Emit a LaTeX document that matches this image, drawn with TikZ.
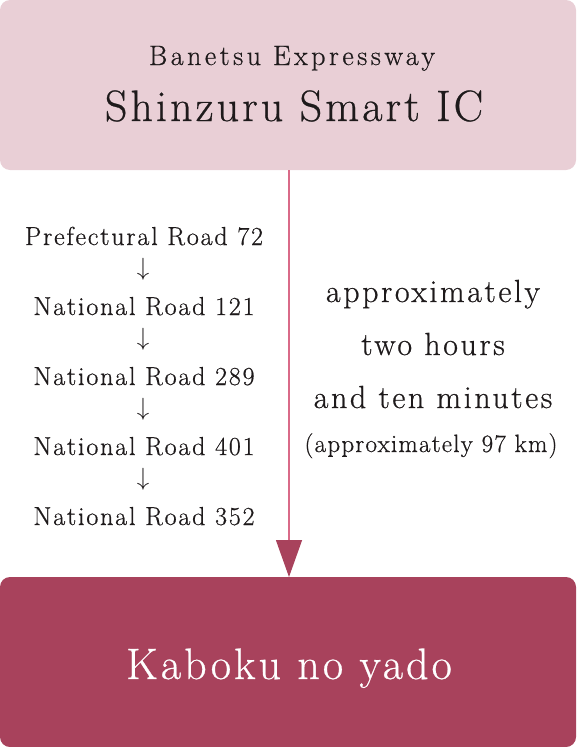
\documentclass[tikz,border=0pt]{standalone}
\usepackage{fontspec}
\setmainfont{Latin Modern Roman}[FakeBold=0.6]
\usetikzlibrary{arrows.meta}
\definecolor{toppink}{HTML}{E9CFD6}
\definecolor{boxred}{HTML}{A8425C}
\definecolor{linepink}{HTML}{D96A88}
\definecolor{ink}{HTML}{1E1A1B}
\begin{document}
\begin{tikzpicture}[x=1pt,y=1pt,
  boxstyle/.style={rectangle,rounded corners=10pt,minimum width=576pt,minimum height=170pt,inner sep=0pt,draw=none},
  txt/.style={anchor=base,inner sep=0pt,text=ink},
  road/.style={txt,font=\fontsize{26}{30}\selectfont\addfontfeatures{LetterSpace=7}},
  downarr/.style={anchor=center,inner sep=0pt,text=ink,font=\fontsize{31}{34}\selectfont},
  timetxt/.style={txt,font=\fontsize{32}{36}\selectfont\addfontfeatures{LetterSpace=8}}
]
\useasboundingbox (0,0) rectangle (576,-747);
\node[boxstyle,fill=toppink] (start) at (288,-85) {};
\node[boxstyle,fill=boxred] (goal) at (288,-662) {};
\node[txt,font=\fontsize{28}{32}\selectfont\addfontfeatures{LetterSpace=12.5}] (sub) at (292,-65) {Banetsu Expressway};
\node[txt,font=\fontsize{44}{50}\selectfont\addfontfeatures{LetterSpace=7}] (ic) at (294,-121) {Shinzuru Smart IC};
\node[txt,text=white,font=\fontsize{44}{50}\selectfont\addfontfeatures{LetterSpace=7}] (yado) at (289,-679) {Kaboku no yado};
\coordinate (ls) at (289,-170);
\coordinate (le) at (289,-577);
\draw[linepink,line width=1.3pt,-{Triangle[width=26pt,length=37pt,color=boxred,fill=boxred]}] (ls) -- (le);
\node[road] (r1) at (144,-245) {Prefectural Road 72};
\node[downarr] (a1) at (143,-269) {$\downarrow$};
\node[road] (r2) at (144,-315) {National Road 121};
\node[downarr] (a2) at (143,-339) {$\downarrow$};
\node[road] (r3) at (144,-385) {National Road 289};
\node[downarr] (a3) at (143,-409) {$\downarrow$};
\node[road] (r4) at (144,-455) {National Road 401};
\node[downarr] (a4) at (143,-479) {$\downarrow$};
\node[road] (r5) at (144,-525) {National Road 352};
\node[timetxt] (t1) at (433,-302) {approximately};
\node[timetxt] (t2) at (433,-355) {two hours};
\node[timetxt] (t3) at (433,-408) {and ten minutes};
\node[txt,font=\fontsize{25}{29}\selectfont\addfontfeatures{LetterSpace=5}] (t4) at (431,-452) {(approximately 97 km)};
\end{tikzpicture}
\end{document}
